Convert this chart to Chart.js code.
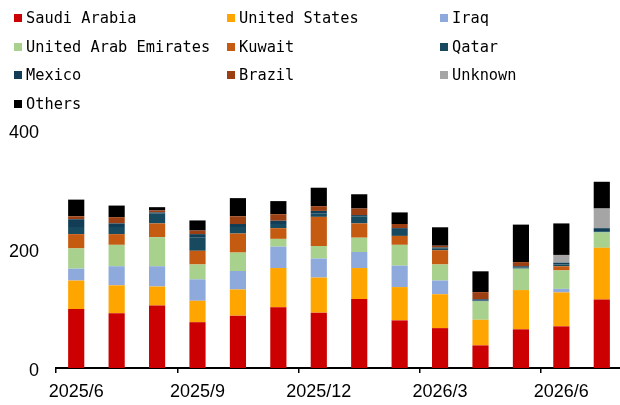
<!DOCTYPE html>
<html>
<head>
<meta charset="utf-8">
<script src="https://cdn.jsdelivr.net/npm/chart.js@4/dist/chart.umd.min.js"></script>
<style>
  html, body { margin: 0; padding: 0; background: #fff; overflow: hidden; }
  #wrap { position: relative; width: 624px; height: 405px; overflow: hidden; }
  #legend { position: absolute; left: 14px; top: 8px; width: 620px; z-index: 2; }
  .item { position: absolute; display: flex; align-items: center; height: 20px;
          font-family: "DejaVu Sans Mono", monospace; font-size: 15.3px; color: #000; white-space: pre; }
  .sw { width: 8px; height: 8px; margin-right: 4px; }
</style>
</head>
<body>
<div id="wrap">
  <div id="legend"></div>
  <canvas id="chart" width="624" height="414"></canvas>
</div>
<script>
const months = ['2025/6', '2025/7', '2025/8', '2025/9', '2025/10', '2025/11', '2025/12',
                '2026/1', '2026/2', '2026/3', '2026/4', '2026/5', '2026/6', '2026/7'];

const saudi   = [99, 92, 105, 77, 88, 102, 93, 116, 80, 67, 38, 65, 70, 115];
const us      = [48, 47, 32, 36, 44, 66, 59, 52, 56, 57, 43, 66, 57, 87];
const iraq    = [20, 32, 34, 36, 31, 36, 32, 27, 36, 23, 0, 0, 6, 0];
const uae     = [34, 36, 49, 25, 31, 13, 21, 24, 35, 27, 31, 36, 31, 26];
const kuwait  = [24, 18, 23, 23, 32, 18, 49, 24, 15, 24, 0, 0, 7, 0];
const qatar   = [12, 12, 17, 22, 11, 7, 6, 12, 10, 2.5, 1.5, 2, 3, 2];
const mexico  = [13, 6, 1.5, 6, 5, 5.5, 4, 2, 3, 2, 2, 2, 3, 5];
const brazil  = [5, 10.5, 3.3, 6, 13, 11, 8, 11, 7, 3, 12, 7, 0, 0];
const unknown = [0, 0, 0, 0, 0, 0, 0, 0, 0, 0, 0, 0, 13, 33];
const others  = [28, 19.5, 5.5, 17, 30.5, 22, 31, 24, 19.5, 31, 35, 63, 53, 45];

const yTicks = [0, 200, 400];

const series = [
    { label: 'Saudi Arabia', data: saudi, color: '#CC0000' },
    { label: 'United States', data: us, color: '#FFA500' },
    { label: 'Iraq', data: iraq, color: '#8EA9DB' },
    { label: 'United Arab Emirates', data: uae, color: '#A9D18E' },
    { label: 'Kuwait', data: kuwait, color: '#C55A11' },
    { label: 'Qatar', data: qatar, color: '#174A5F' },
    { label: 'Mexico', data: mexico, color: '#113D56' },
    { label: 'Brazil', data: brazil, color: '#9C4013' },
    { label: 'Unknown', data: unknown, color: '#A5A5A5' },
    { label: 'Others', data: others, color: '#000000' }
];

// legend: 3 columns, built from the series list
const legend = document.getElementById('legend');
series.forEach((s, i) => {
    const el = document.createElement('div');
    el.className = 'item';
    el.style.left = (i % 3) * 213 + 'px';
    el.style.top = Math.floor(i / 3) * 28.6 + 'px';
    el.innerHTML = '<span class="sw" style="background:' + s.color + '"></span>' + s.label;
    legend.appendChild(el);
});

const ctx = document.getElementById('chart').getContext('2d');
let chart = new Chart(ctx, {
    type: 'bar',
    data: {
        labels: months,
        datasets: series.map(s => ({
            label: s.label,
            data: s.data,
            backgroundColor: s.color,
            borderWidth: 0,
            barPercentage: 0.4,
            categoryPercentage: 1
        }))
    },
    options: {
        responsive: false,
        animation: false,
        layout: { padding: { top: 130, right: 2, bottom: 3, left: 0 } },
        plugins: { legend: { display: false }, tooltip: { enabled: false } },
        scales: {
            x: {
                stacked: true,
                offset: true,
                border: { display: true, color: '#000', width: 2 },
                grid: {
                    offset: true,
                    drawOnChartArea: false,
                    drawTicks: true,
                    tickLength: 5,
                    lineWidth: 1.5,
                    color: c => (c.index % 3 === 0 ? '#000' : 'rgba(0,0,0,0)')
                },
                ticks: {
                    autoSkip: false,
                    maxRotation: 0,
                    padding: 10,
                    color: '#000',
                    font: { family: '"Liberation Sans", Arial, sans-serif', size: 18, lineHeight: 1 },
                    callback: (v, i) => (i % 3 === 0 ? months[i] : '')
                }
            },
            y: {
                stacked: true,
                min: 0,
                max: 400,
                border: { display: false },
                grid: { display: false },
                afterFit: s => { s.width = 56; },
                afterBuildTicks: s => { s.ticks = yTicks.map(v => ({ value: v })); },
                ticks: {
                    padding: 9,
                    labelOffset: 3,
                    color: '#000',
                    font: { family: '"Liberation Sans", Arial, sans-serif', size: 18 }
                }
            }
        }
    }
});
</script>
</body>
</html>
